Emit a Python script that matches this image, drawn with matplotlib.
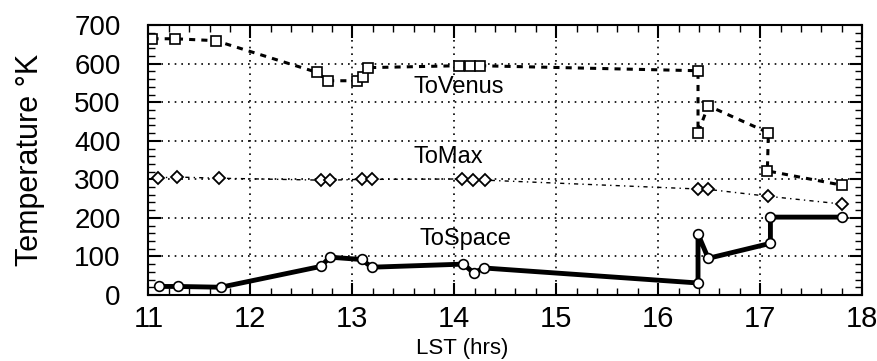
import numpy as np
import matplotlib
matplotlib.use('Agg')
import matplotlib.pyplot as plt
from matplotlib.ticker import MultipleLocator

plt.rcParams['font.family'] = ['Liberation Sans', 'DejaVu Sans']

# values (LST hours, temperature K)
venus_t = [11.04, 11.26, 11.66, 12.65, 12.76, 13.05, 13.10, 13.15, 14.05, 14.15, 14.25,
           16.39, 16.39, 16.49, 17.08, 17.07, 17.80]
venus_T = [665, 665, 660, 578, 556, 556, 565, 590, 595, 595, 595,
           582, 421, 491, 421, 322, 285]

max_t = [11.09, 11.28, 11.69, 12.69, 12.78, 13.09, 13.19, 14.08, 14.18, 14.30,
         16.39, 16.49, 17.08, 17.80]
max_T = [304, 306, 303, 298, 298, 300, 300, 301, 298, 298,
         275, 274, 256, 236]

space_t = [11.10, 11.29, 11.71, 12.69, 12.78, 13.09, 13.19, 14.09, 14.19, 14.29,
           16.39, 16.39, 16.49, 17.10, 17.10, 17.80]
space_T = [22, 22, 20, 74, 98, 92, 72, 80, 57, 70,
           31, 158, 95, 134, 202, 202]

labels = ['ToVenus', 'ToMax', 'ToSpace']
label_pos = [(14.04, 540), (13.94, 358), (14.11, 145)]

fig = plt.figure(figsize=(8.78, 3.61), dpi=100)
ax = fig.add_axes([0.169, 0.183, 0.813, 0.747])

ax.plot(venus_t, venus_T, color='black', lw=2.2, ls=(0, (2, 2)),
        marker='s', ms=7, mfc='white', mec='black', mew=1.2)
ax.plot(max_t, max_T, color='black', lw=1.0, ls=(0, (3, 3, 1, 3)),
        marker='D', ms=6, mfc='white', mec='black', mew=1.3)
ax.plot(space_t, space_T, color='black', lw=3.5, ls='-',
        marker='o', ms=7, mfc='white', mec='black', mew=1.2)

for lab, (lx, ly) in zip(labels, label_pos):
    ax.text(lx, ly, lab, ha='center', va='center', fontsize=17)

ax.set_xlim(11, 18)
ax.set_ylim(0, 700)
ax.xaxis.set_major_locator(MultipleLocator(1))
ax.xaxis.set_minor_locator(MultipleLocator(0.2))
ax.yaxis.set_major_locator(MultipleLocator(100))
ax.yaxis.set_minor_locator(MultipleLocator(20))
ax.tick_params(which='both', direction='in', top=True, right=True)
ax.tick_params(which='major', length=9, width=1.5)
ax.tick_params(which='minor', length=5, width=1)
ax.tick_params(axis='x', which='major', labelsize=21, pad=7)
ax.tick_params(axis='y', which='major', labelsize=20, pad=20)
ax.grid(True, which='major', color='black', ls=(0, (1, 3)), lw=1.2)

for s in ax.spines.values():
    s.set_linewidth(1.5)

ax.set_xlabel('LST (hrs)', fontsize=16)
ax.xaxis.set_label_coords(0.44, -0.2)
ax.xaxis.label.set_va('center')
ax.set_ylabel('Temperature \u00b0K', fontsize=22, labelpad=21)

plt.savefig('out.png', dpi=100)
